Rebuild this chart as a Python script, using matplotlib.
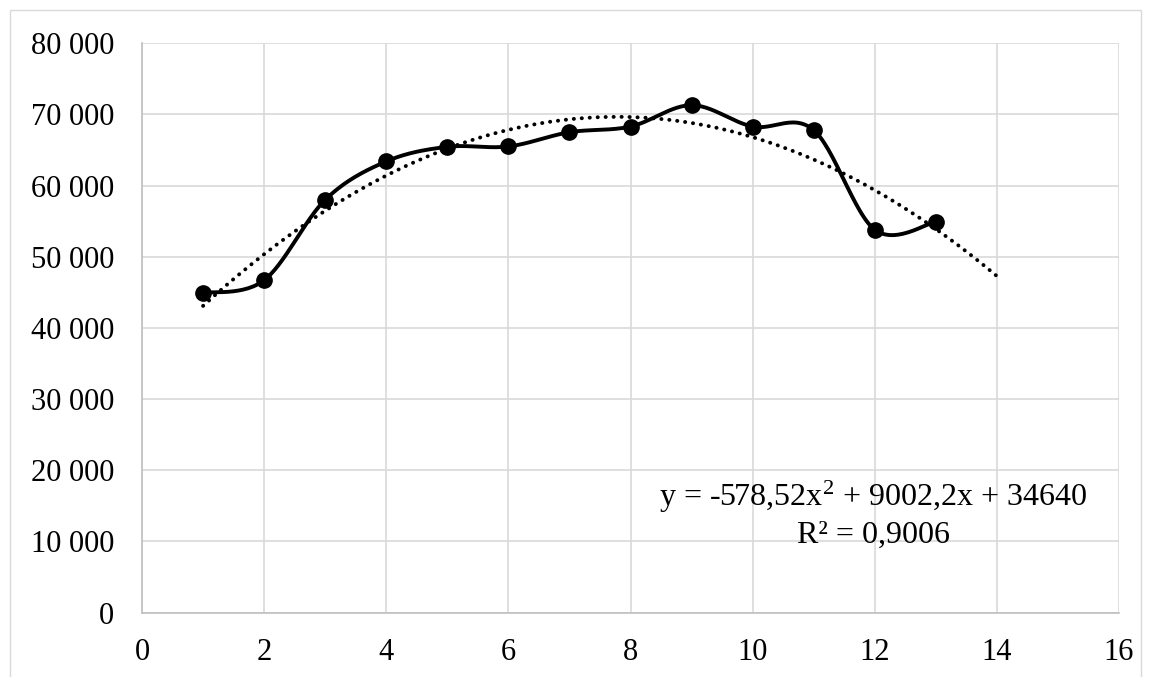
import numpy as np
import matplotlib
matplotlib.use("Agg")
import matplotlib.pyplot as plt
from matplotlib.patches import Rectangle
from matplotlib.ticker import FuncFormatter

x_vals = [1, 2, 3, 4, 5, 6, 7, 8, 9, 10, 11, 12, 13]
y_vals = [44900, 46700, 58000, 63400, 65450, 65500, 67500, 68300, 71300, 68300, 67800, 53800, 54900]
x_ticks = [0, 2, 4, 6, 8, 10, 12, 14, 16]
y_ticks = [0, 10000, 20000, 30000, 40000, 50000, 60000, 70000, 80000]
trend_end = 14
equation_text = "y = -578,52x$^{2}$ + 9002,2x + 34640"
r2_text = "R² = 0,9006"

plt.rcParams['font.family'] = ['Liberation Serif', 'DejaVu Serif']
plt.rcParams['mathtext.fontset'] = 'custom'
plt.rcParams['mathtext.rm'] = 'Liberation Serif'
plt.rcParams['mathtext.it'] = 'Liberation Serif'
plt.rcParams['mathtext.default'] = 'regular'

def smooth_curve(xs, ys, n=30):
    # Excel-like smoothed line: cubic Bezier with Catmull-Rom control points
    xs = np.asarray(xs, float); ys = np.asarray(ys, float)
    px = np.concatenate([[xs[0]], xs, [xs[-1]]])
    py = np.concatenate([[ys[0]], ys, [ys[-1]]])
    outx, outy = [], []
    t = np.linspace(0, 1, n)
    for i in range(1, len(px) - 2):
        p0 = np.array([px[i], py[i]])
        p3 = np.array([px[i + 1], py[i + 1]])
        c1 = p0 + (np.array([px[i + 1], py[i + 1]]) - np.array([px[i - 1], py[i - 1]])) / 6
        c2 = p3 - (np.array([px[i + 2], py[i + 2]]) - np.array([px[i], py[i]])) / 6
        b = ((1 - t) ** 3)[:, None] * p0 + (3 * (1 - t) ** 2 * t)[:, None] * c1 + \
            (3 * (1 - t) * t ** 2)[:, None] * c2 + (t ** 3)[:, None] * p3
        outx.extend(b[:, 0]); outy.extend(b[:, 1])
    return np.array(outx), np.array(outy)

W, H = 1151, 677
fig = plt.figure(figsize=(W / 100, H / 100), dpi=100)
fig.patches.append(Rectangle((10 / W, -0.01), 1131 / W, 1 - 10 / H + 0.01,
                             transform=fig.transFigure, fill=False,
                             edgecolor='#d9d9d9', linewidth=1.0))
ax = fig.add_axes([142 / W, 1 - 612.5 / H, (1119 - 142) / W, (612.5 - 43.3) / H])

# trendline from polynomial fit
coef = np.polyfit(x_vals, y_vals, 2)
tx = np.linspace(x_vals[0], trend_end, 200)
ax.plot(tx, np.polyval(coef, tx), color='black', linewidth=2.8,
        linestyle=(0, (0.05, 2.0)), dash_capstyle='round', zorder=3)

sx, sy = smooth_curve(x_vals, y_vals)
ax.plot(sx, sy, color='black', linewidth=2.8, zorder=4, solid_capstyle='round')
ax.plot(x_vals, y_vals, 'o', color='black', markersize=11, zorder=5)

ax.set_xlim(0, 16)
ax.set_ylim(0, 80000)
ax.set_xticks(x_ticks)
ax.set_yticks(y_ticks)
ax.yaxis.set_major_formatter(FuncFormatter(lambda v, p: f"{int(v):,}".replace(",", " ")))
ax.grid(True, color='#d9d9d9', linewidth=1.2)
ax.set_axisbelow(True)
for s in ['top', 'right']:
    ax.spines[s].set_visible(False)
for s in ['left', 'bottom']:
    ax.spines[s].set_color('#bfbfbf')
    ax.spines[s].set_linewidth(1.2)
ax.tick_params(axis='both', length=0, labelsize=22, colors='black')
ax.tick_params(axis='y', pad=20)
ax.tick_params(axis='x', pad=18)

fig.text(873 / W, 1 - 497 / H, equation_text, fontsize=23, ha='center', va='center')
fig.text(873 / W, 1 - 535 / H, r2_text, fontsize=23, ha='center', va='center')

fig.savefig("out.png", dpi=100)
